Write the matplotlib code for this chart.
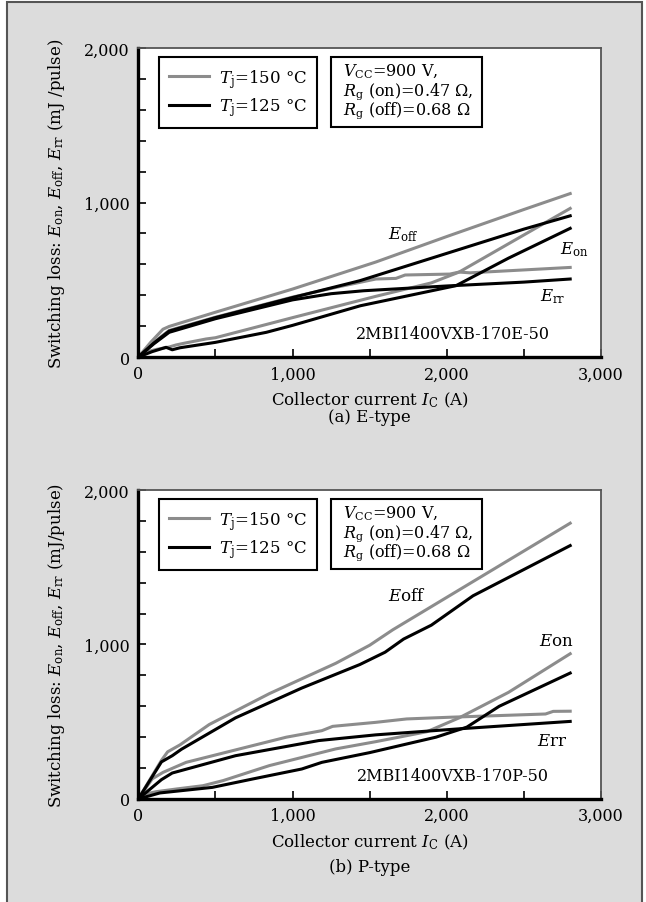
import matplotlib
matplotlib.use('Agg')
import matplotlib.pyplot as plt
from matplotlib.patches import Rectangle
from matplotlib.ticker import MultipleLocator, FuncFormatter
import numpy as np

plt.rcParams['font.family'] = ['DejaVu Serif']
plt.rcParams['mathtext.fontset'] = 'dejavuserif'

GRAY = '#8c8c8c'

# ---- (a) E-type, collector current (A) vs loss (mJ/pulse) ----
e_eoff150_i = [0, 80, 160, 200, 500, 1000, 1540, 2000, 2500, 2800]
e_eoff150 = [0, 95, 180, 198, 290, 440, 615, 780, 955, 1058]
e_eoff125_i = [0, 100, 200, 500, 1000, 1436, 2000, 2500, 2800]
e_eoff125 = [0, 90, 168, 255, 385, 494, 671, 828, 914]
e_err150_i = [0, 100, 200, 500, 1000, 1300, 1540, 1670, 1730, 2020, 2080, 2150, 2800]
e_err150 = [0, 95, 172, 258, 388, 455, 505, 509, 531, 537, 550, 545, 580]
e_err125_i = [0, 100, 200, 500, 1000, 1250, 1460, 2000, 2500, 2800]
e_err125 = [0, 85, 160, 248, 370, 410, 429, 460, 485, 505]
e_eon150_i = [0, 60, 120, 200, 244, 300, 440, 500, 1000, 1540, 1900, 2080, 2800]
e_eon150 = [0, 35, 50, 65, 78, 90, 117, 125, 255, 393, 480, 550, 962]
e_eon125_i = [0, 90, 180, 220, 270, 500, 830, 1000, 1440, 2060, 2400, 2800]
e_eon125 = [0, 35, 63, 47, 60, 95, 160, 205, 332, 462, 640, 833]

# ---- (b) P-type ----
p_eoff150_i = [0, 150, 190, 270, 460, 850, 1280, 1500, 1650, 2000, 2400, 2800]
p_eoff150 = [0, 250, 305, 350, 482, 682, 878, 995, 1095, 1305, 1545, 1785]
p_eoff125_i = [0, 150, 220, 280, 630, 1060, 1436, 1600, 1720, 1900, 2170, 2800]
p_eoff125 = [0, 240, 280, 322, 525, 718, 870, 950, 1035, 1125, 1315, 1640]
p_err150_i = [0, 90, 160, 310, 740, 960, 1190, 1260, 1540, 1740, 2020, 2640, 2690, 2800]
p_err150 = [0, 130, 172, 237, 345, 400, 442, 470, 496, 518, 529, 550, 567, 568]
p_err125_i = [0, 150, 220, 630, 1170, 1540, 2080, 2800]
p_err125 = [0, 125, 168, 280, 378, 415, 454, 502]
p_eon150_i = [0, 60, 115, 250, 420, 550, 850, 1280, 1540, 1870, 2080, 2400, 2800]
p_eon150 = [0, 35, 47, 65, 86, 119, 216, 324, 371, 435, 525, 690, 940]
p_eon125_i = [0, 140, 480, 740, 1060, 1190, 1500, 1930, 2130, 2340, 2800]
p_eon125 = [0, 39, 75, 129, 194, 237, 300, 400, 465, 600, 815]

temps = ['150', '125']
cond_lines = [r'$V_{\rm CC}$=900 V,', r'$R_{\rm g}$ (on)=0.47 Ω,', r'$R_{\rm g}$ (off)=0.68 Ω']


def fmt(v, pos):
    return '{:,.0f}'.format(v)


def draw_panel(ax, curves150, curves125, labels, model, subtitle, sub_y, ylabel):
    for xs, ys in curves150:
        l150, = ax.plot(xs, ys, color=GRAY, lw=2.2, solid_joinstyle='round')
    for xs, ys in curves125:
        l125, = ax.plot(xs, ys, color='black', lw=2.2, solid_joinstyle='round')

    ax.set_xlim(0, 3000)
    ax.set_ylim(0, 2000)
    ax.xaxis.set_major_locator(MultipleLocator(1000))
    ax.xaxis.set_minor_locator(MultipleLocator(500))
    ax.yaxis.set_major_locator(MultipleLocator(1000))
    ax.yaxis.set_minor_locator(MultipleLocator(200))
    ax.xaxis.set_major_formatter(FuncFormatter(fmt))
    ax.yaxis.set_major_formatter(FuncFormatter(fmt))
    ax.tick_params(which='both', direction='in', length=6, width=1.2,
                   top=False, right=False, labelsize=11.5, pad=6)
    for s in ['left', 'bottom']:
        ax.spines[s].set_linewidth(2.4)
        ax.spines[s].set_color('black')
    for s in ['top', 'right']:
        ax.spines[s].set_linewidth(1.3)
        ax.spines[s].set_color('#555555')

    ax.set_xlabel(r'Collector current $I_{\rm C}$ (A)', fontsize=12, va='center')
    ax.xaxis.set_label_coords(0.5, -0.136)
    ax.set_ylabel(ylabel, fontsize=12, va='center')
    ax.yaxis.set_label_coords(-0.176, 0.5)
    ax.text(0.5, sub_y, subtitle, transform=ax.transAxes, ha='center',
            va='center', fontsize=12)

    for txt, x, y in labels:
        ax.text(x, y, txt, ha='center', va='center', fontsize=12)
    ax.text(2040, 150, model, ha='center', va='center', fontsize=11.5)

    leg = ax.legend([l150, l125],
                    [r'$T_{\rm j}$=' + temps[0] + ' °C', r'$T_{\rm j}$=' + temps[1] + ' °C'],
                    loc='upper left', bbox_to_anchor=(0.045, 0.971), borderaxespad=0,
                    frameon=True, fancybox=False, edgecolor='black', framealpha=1,
                    borderpad=0.6, handlelength=2.4, handletextpad=0.6,
                    labelspacing=0.32, fontsize=12)
    leg.get_frame().set_linewidth(1.5)

    ax.add_patch(Rectangle((0.416, 0.744), 0.327, 0.227, transform=ax.transAxes,
                           facecolor='white', edgecolor='black', lw=1.5, zorder=5))
    for k, line in enumerate(cond_lines):
        ax.text(0.443, 0.935 - 0.062 * k, line, transform=ax.transAxes,
                ha='left', va='center_baseline', fontsize=11.5, zorder=6)


def main():
    fig = plt.figure(figsize=(6.46, 9.03), dpi=100)
    fig.patch.set_facecolor('white')
    fig.add_artist(Rectangle((7 / 646, -0.02), 635 / 646, 1.02 - 3 / 903,
                             transform=fig.transFigure, facecolor='#dcdcdc',
                             edgecolor='#555555', lw=1.5, zorder=0))

    ax1 = fig.add_axes([0.2141, 0.6035, 0.7163, 0.3422])
    ax2 = fig.add_axes([0.2141, 0.1141, 0.7163, 0.3422])

    draw_panel(ax1,
               [(e_eoff150_i, e_eoff150), (e_err150_i, e_err150), (e_eon150_i, e_eon150)],
               [(e_eoff125_i, e_eoff125), (e_err125_i, e_err125), (e_eon125_i, e_eon125)],
               [(r'$E_{\rm off}$', 1717, 798), (r'$E_{\rm on}$', 2829, 699),
                (r'$E_{\rm rr}$', 2686, 395)],
               '2MBI1400VXB-170E-50', '(a) E-type', -0.194,
               r'Switching loss: $E_{\rm on}$, $E_{\rm off}$, $E_{\rm rr}$ (mJ /pulse)')

    draw_panel(ax2,
               [(p_eoff150_i, p_eoff150), (p_err150_i, p_err150), (p_eon150_i, p_eon150)],
               [(p_eoff125_i, p_eoff125), (p_err125_i, p_err125), (p_eon125_i, p_eon125)],
               [(r'$E$off', 1738, 1314), (r'$E$on', 2712, 1025), (r'$E$rr', 2686, 377)],
               '2MBI1400VXB-170P-50', '(b) P-type', -0.220,
               r'Switching loss: $E_{\rm on}$, $E_{\rm off}$, $E_{\rm rr}$ (mJ/pulse)')

    fig.savefig('out.png', dpi=100)


if __name__ == '__main__':
    main()
